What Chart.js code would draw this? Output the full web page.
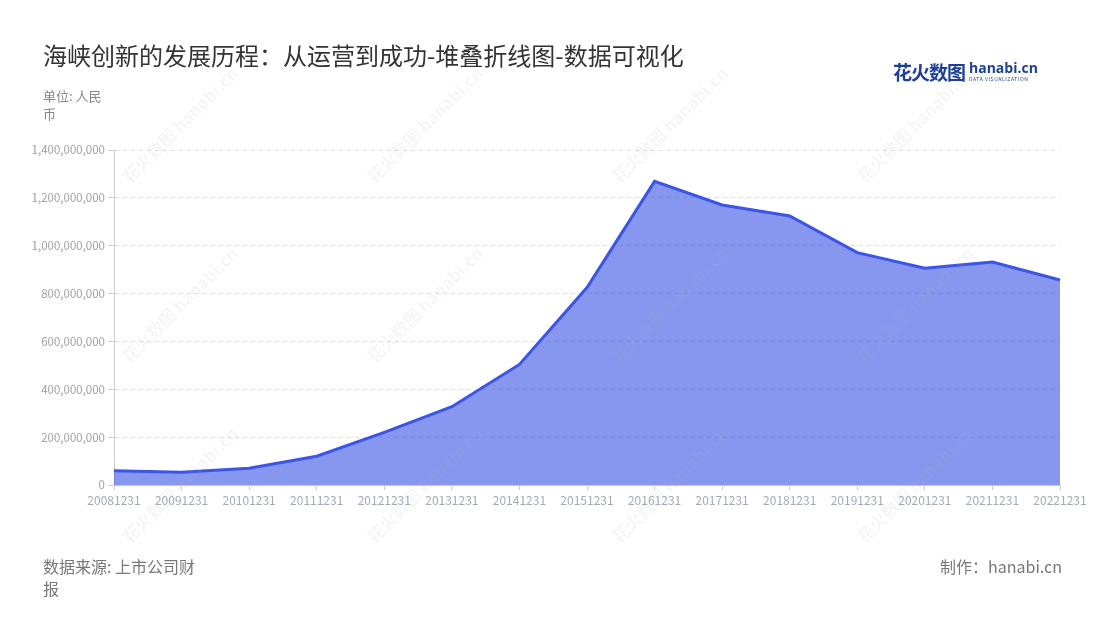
<!DOCTYPE html>
<html>
<head>
<meta charset="utf-8">
<script src="https://cdn.jsdelivr.net/npm/chart.js@4/dist/chart.umd.min.js"></script>
<style>
	html, body { margin: 0; padding: 0; background: #fff; }
	body { width: 1100px; height: 620px; position: relative; overflow: hidden; font-family: "Noto Sans CJK SC", "Noto Sans", sans-serif; }
	#wrap { position: absolute; left: 0; top: 0; width: 1100px; height: 620px; }
	.txt { position: absolute; white-space: nowrap; }
	#title { left: 43px; top: 37px; font-size: 24px; color: #333; }
	#unit { left: 43px; top: 87px; width: 70px; white-space: normal; font-size: 13px; line-height: 18px; color: #888; }
	#source { left: 43px; top: 555px; width: 158px; white-space: normal; font-size: 16px; line-height: 22px; color: #777; }
	#maker { right: 38px; top: 555px; font-size: 16px; line-height: 22px; color: #777; }
	#logo { left: 893px; top: 58px; }
	#logo .cn { font-size: 19px; font-weight: bold; color: #1d3f9a; letter-spacing: -1px; vertical-align: top; }
	#logo .en { display: inline-block; margin-left: 4px; vertical-align: top; line-height: 1; }
	#logo .en b { display: block; font-family: "Open Sans", sans-serif; font-size: 14px; color: #1d3f9a; margin-top: 3px; }
	#logo .en i { display: block; font-style: normal; font-size: 5px; color: #1d3f9a; letter-spacing: 0.6px; margin-top: 1px; }
</style>
</head>
<body>
<div id="wrap"><canvas id="area-chart"></canvas></div>
<div class="txt" id="title">海峡创新的发展历程：从运营到成功-堆叠折线图-数据可视化</div>
<div class="txt" id="logo"><span class="cn">花火数图</span><span class="en"><b>hanabi.cn</b><i>DATA VISUALIZATION</i></span></div>
<div class="txt" id="unit">单位: 人民币</div>
<div class="txt" id="source">数据来源: 上市公司财报</div>
<div class="txt" id="maker">制作：hanabi.cn</div>
<script>
// Data.
var dates = ["20081231", "20091231", "20101231", "20111231", "20121231", "20131231", "20141231", "20151231",
	"20161231", "20171231", "20181231", "20191231", "20201231", "20211231", "20221231"];
var revenue = [60000000, 53000000, 70000000, 120000000, 220000000, 327000000, 504000000, 825000000,
	1269000000, 1170000000, 1124000000, 971000000, 906000000, 932000000, 857000000];
var yMin = 0;
var yMax = 1400000000;
var yStep = 200000000;

// Faint watermark.
var watermark = {
	id: 'watermark',
	afterDatasetsDraw: function (chart) {
		var ctx = chart.ctx;
		var xs = [180, 425, 670, 915];
		var ys = [125, 305, 485];
		ctx.save();
		ctx.fillStyle = 'rgba(170,170,170,0.11)';
		ctx.font = 'bold 17px "Noto Sans CJK SC"';
		ctx.textAlign = 'center';
		ctx.textBaseline = 'middle';
		xs.forEach(function (x) {
			ys.forEach(function (y) {
				ctx.save();
				ctx.translate(x, y);
				ctx.rotate(-Math.PI / 4);
				ctx.fillText('花火数图 hanabi.cn', 0, 0);
				ctx.restore();
			});
		});
		ctx.restore();
	}
};

var tickFamily = '"Noto Sans CJK SC", sans-serif';

new Chart(document.getElementById("area-chart"), {
	type: 'line',
	data: {
		labels: dates,
		datasets: [{
			label: '营业收入',
			data: revenue,
			borderColor: '#3a55e8',
			backgroundColor: 'rgba(59,85,230,0.61)',
			borderWidth: 3,
			fill: 'origin',
			tension: 0,
			pointRadius: 0,
			pointHoverRadius: 0
		}]
	},
	plugins: [watermark],
	options: {
		responsive: true,
		maintainAspectRatio: false,
		animation: false,
		layout: { padding: { left: 0, top: 150, right: 40, bottom: 0 } },
		plugins: {
			legend: { display: false },
			title: { display: false },
			tooltip: { enabled: false }
		},
		scales: {
			x: {
				offset: false,
				grid: { display: true, drawOnChartArea: false, drawTicks: true, tickLength: 5, color: '#ccc' },
				border: { display: true, color: '#ccc' },
				ticks: { color: '#a3a9b8', font: { family: tickFamily, size: 12 }, padding: 3, maxRotation: 0, autoSkip: false },
				afterFit: function (scale) { scale.height = 135; }
			},
			y: {
				min: yMin,
				max: yMax,
				grid: { color: '#dedede', drawTicks: true, tickLength: 6, tickColor: '#ccc', tickBorderDash: [] },
				border: { display: true, color: '#ccc', dash: [4, 4] },
				ticks: {
					stepSize: yStep,
					color: '#a0a0a0',
					font: { family: tickFamily, size: 11.5 },
					padding: 3,
					callback: function (v) { return Number(v).toLocaleString('en-US'); }
				},
				afterFit: function (scale) { scale.width = 114; }
			}
		}
	}
});
</script>
</body>
</html>
